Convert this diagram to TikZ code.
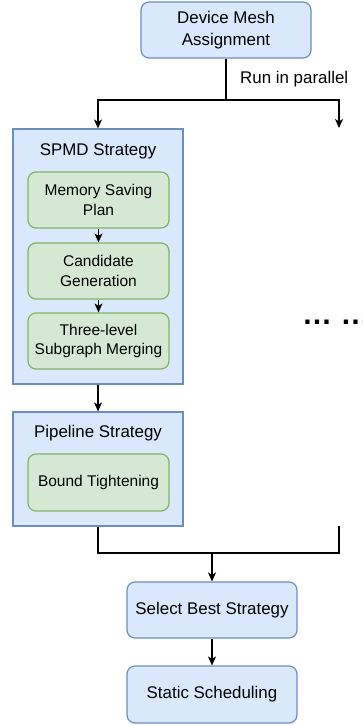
\documentclass[tikz,border=0pt]{standalone}
\usepackage{fontspec}
\setmainfont{Liberation Sans}
\usetikzlibrary{arrows.meta}
\definecolor{bluefill}{HTML}{DAE8FC}
\definecolor{bluestroke}{HTML}{6C8EBF}
\definecolor{greenfill}{HTML}{D5E8D4}
\definecolor{greenstroke}{HTML}{82B366}
\begin{document}
\begin{tikzpicture}[x=1pt,y=-1pt,
  stepbox/.style={draw=bluestroke, fill=bluefill, line width=1.2pt, rounded corners=8pt,
    minimum width=170pt, minimum height=56pt, inner sep=0pt, align=center,
    font=\fontsize{16.9}{22}\selectfont},
  container/.style={draw=bluestroke, fill=bluefill, line width=1.2pt,
    minimum width=170pt, inner sep=0pt},
  substep/.style={draw=greenstroke, fill=greenfill, line width=1.2pt, rounded corners=8pt,
    minimum width=141pt, minimum height=56pt, inner sep=0pt, align=center,
    font=\fontsize{15.5}{19.3}\selectfont},
  title/.style={font=\fontsize{16.9}{20}\selectfont, inner sep=0pt},
  link/.style={line width=1.3pt, draw=black},
  arrow/.style={link, -{Stealth[length=9pt, width=8pt, inset=2.5pt]}},
]
\useasboundingbox (0,0) rectangle (362,725);

% entry step
\node[stepbox] (mesh) at (226,30) {Device Mesh\\Assignment};

% SPMD strategy container with its sub-steps
\node[container, minimum height=255pt] (spmd) at (98,256.5) {};
\node[title] (spmdtitle) at (98,151) {SPMD Strategy};
\node[substep] (memory) at (98.5,200) {Memory Saving\\Plan};
\node[substep] (candidate) at (98.5,271) {Candidate\\Generation};
\node[substep] (merging) at (98.5,341) {Three-level\\Subgraph Merging};

% pipeline strategy container
\node[container, minimum height=114pt] (pipe) at (98,469) {};
\node[title] (pipetitle) at (98,433) {Pipeline Strategy};
\node[substep, minimum height=57pt] (bound) at (98.5,482.5) {Bound Tightening};

% other parallel branches
\node[font=\bfseries\fontsize{30}{30}\selectfont, anchor=base west, inner sep=0pt] (more) at (302,324) {… …};

% final steps
\node[stepbox] (best) at (212,610) {Select Best Strategy};
\node[stepbox, minimum height=57pt] (sched) at (212,694.5) {Static Scheduling};

% fan-out
\coordinate (split) at (226,100);
\coordinate (branch) at (339,128);
\draw[link] (mesh.south) -- (split);
\draw[arrow] (split) -| (spmd.north);
\draw[arrow] (split) -| (branch);
\node[title, anchor=west] (parallel) at (240,79) {Run in parallel};

% inner flow
\draw[arrow] (memory.south) -- (candidate.north);
\draw[arrow] (candidate.south) -- (merging.north);
\draw[arrow] (spmd.south) -- (pipe.north);

% fan-in
\coordinate (join) at (212,553);
\coordinate (branchend) at (339,526);
\draw[link] (pipe.south) |- (join);
\draw[link] (branchend) |- (join);
\draw[arrow] (join) -- (best.north);
\draw[arrow] (best.south) -- (sched.north);
\end{tikzpicture}
\end{document}
